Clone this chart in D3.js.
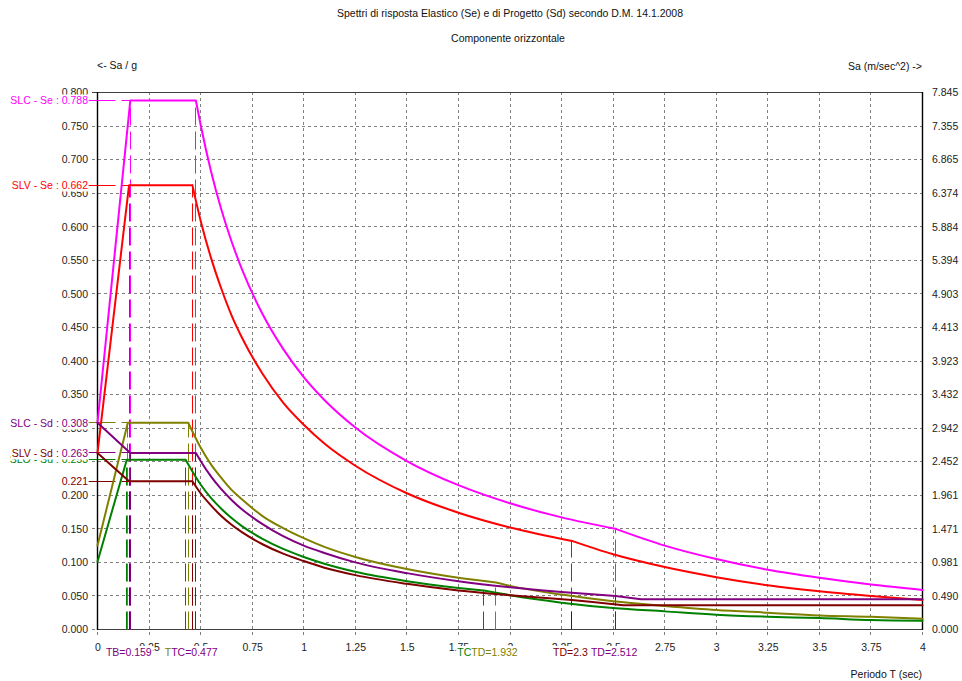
<!DOCTYPE html>
<html><head><meta charset="utf-8">
<script src="https://cdn.jsdelivr.net/npm/d3@7"></script>
<style>
body{margin:0;background:#fff;}
svg text{font-family:"Liberation Sans",Arial,sans-serif;font-size:10.5px;white-space:pre;}
</style>
</head><body>
<svg id="chart" width="962" height="681"></svg>
<script>
// ---------------- data ----------------
const titleText = "Spettri di risposta Elastico (Se) e di Progetto (Sd) secondo D.M. 14.1.2008";
const subtitleText = "Componente orizzontale";
const leftAxisTitle = "<- Sa / g";
const rightAxisTitle = "Sa (m/sec^2) ->";
const xAxisTitle = "Periodo T (sec)";

const yTicks = [0,0.05,0.1,0.15,0.2,0.25,0.3,0.35,0.4,0.45,0.5,0.55,0.6,0.65,0.7,0.75,0.8];
const yTickLabels = ["0.000","0.050","0.100","0.150","0.200","0.250","0.300","0.350","0.400","0.450","0.500","0.550","0.600","0.650","0.700","0.750","0.800"];
const yTickLabelsMs2 = ["0.000","0.490","0.981","1.471","1.961","2.452","2.942","3.432","3.923","4.413","4.903","5.394","5.884","6.374","6.865","7.355","7.845"];
const xTicks = [0,0.25,0.5,0.75,1,1.25,1.5,1.75,2,2.25,2.5,2.75,3,3.25,3.5,3.75,4];
const xTickLabels = ["0","0.25","0.5","0.75","1","1.25","1.5","1.75","2","2.25","2.5","2.75","3","3.25","3.5","3.75","4"];

// series (T [s], Sa [g])
const sloSd = [[0,0.101],[0.142,0.253],[0.427,0.253],[0.5,0.216],[0.55,0.196],[0.6,0.180],[0.65,0.166],[0.7,0.154],[0.8,0.135],[0.9,0.120],[1.0,0.108],[1.1,0.098],[1.25,0.086],[1.5,0.072],[1.75,0.062],[1.873,0.058],[2.0,0.051],[2.25,0.040],[2.5,0.032],[2.75,0.027],[3.0,0.022],[3.25,0.019],[3.5,0.017],[3.75,0.014],[4.0,0.013]];
const sldSd = [[0,0.125],[0.147,0.308],[0.44,0.308],[0.5,0.271],[0.55,0.246],[0.6,0.226],[0.65,0.208],[0.7,0.194],[0.8,0.169],[0.9,0.151],[1.0,0.136],[1.1,0.123],[1.25,0.108],[1.5,0.090],[1.75,0.077],[1.932,0.070],[2.0,0.065],[2.25,0.052],[2.5,0.042],[2.75,0.035],[3.0,0.029],[3.25,0.025],[3.5,0.021],[3.75,0.019],[4.0,0.016]];
const slvSe = [[0,0.263],[0.153,0.662],[0.46,0.662],[0.5,0.609],[0.55,0.554],[0.6,0.508],[0.65,0.468],[0.7,0.435],[0.8,0.381],[0.9,0.338],[1.0,0.305],[1.1,0.277],[1.25,0.244],[1.5,0.203],[1.75,0.174],[2.0,0.152],[2.3,0.132],[2.5,0.112],[2.75,0.093],[3.0,0.078],[3.25,0.066],[3.5,0.057],[3.75,0.050],[4.0,0.044]];
const slcSe = [[0,0.308],[0.159,0.788],[0.477,0.788],[0.5,0.752],[0.55,0.683],[0.6,0.626],[0.65,0.578],[0.7,0.537],[0.8,0.470],[0.9,0.418],[1.0,0.376],[1.1,0.342],[1.25,0.301],[1.5,0.251],[1.75,0.215],[2.0,0.188],[2.25,0.167],[2.512,0.150],[2.75,0.125],[3.0,0.105],[3.25,0.089],[3.5,0.077],[3.75,0.067],[4.0,0.059]];
const slvSd = [[0,0.263],[0.153,0.221],[0.46,0.221],[0.5,0.203],[0.55,0.185],[0.6,0.169],[0.65,0.156],[0.7,0.145],[0.8,0.127],[0.9,0.113],[1.0,0.102],[1.1,0.092],[1.25,0.081],[1.5,0.068],[1.75,0.058],[2.0,0.051],[2.3,0.044],[2.4,0.041],[2.549,0.036],[4.0,0.036]];
const slcSd = [[0,0.308],[0.159,0.263],[0.477,0.263],[0.5,0.251],[0.55,0.228],[0.6,0.209],[0.65,0.193],[0.7,0.179],[0.8,0.157],[0.9,0.139],[1.0,0.125],[1.1,0.114],[1.25,0.100],[1.5,0.084],[1.75,0.072],[2.0,0.063],[2.25,0.056],[2.512,0.050],[2.635,0.045],[4.0,0.045]];

const seriesNames = ["SLO - Sd","SLD - Sd","SLV - Se","SLC - Se","SLV - Sd","SLC - Sd"];
const seriesData  = [sloSd, sldSd, slvSe, slcSe, slvSd, slcSd];
const periodTB    = [0.142, 0.147, 0.153, 0.159, 0.153, 0.159];
const periodTC    = [0.427, 0.44, 0.46, 0.477, 0.46, 0.477];
const periodTD    = [1.873, 1.932, 2.3, 2.512, 2.3, 2.512];
const plateauSa   = [0.253, 0.308, 0.662, 0.788, 0.221, 0.263];
const floorStartT = [null, null, null, null, 2.549, 2.635];

// left value labels (main text + visible overlapping suffix), drawing order
const leftLabelTexts   = ["SLO - Sd : 0.253","SLV - Sd : ","SLC - Sd : 0.308","0.221","SLV - Se : 0.662","SLC - Se : 0.788"];
const leftLabelSuffix  = ["","0.263","","","",""];
const leftLabelValues  = [0.253, 0.263, 0.308, 0.221, 0.662, 0.788];
const leftLabelSeries  = [0, 4, 5, 4, 2, 3];
const leftSuffixSeries = [null, 5, null, null, null, null];

// bottom period labels (visible prefix fragment of a covered label + label)
const bottomLabelTexts   = ["TB=0.159","TC=0.477","TD=1.932","TD=2.3","TD=2.512"];
const bottomLabelPeriods = [0.159, 0.477, 1.932, 2.3, 2.512];
const bottomLabelSeries  = [5, 5, 1, 4, 5];
const bottomPrefixTexts  = ["","T","TC","",""];
const bottomPrefixSeries = [null, 1, 0, null, null];

// ---------------- styles ----------------
const seriesColors = ["#008000","#808000","#ff0000","#ff00ff","#800000","#800080"];
const drawOrder = [3,2,1,0,5,4];

// ---------------- drawing ----------------
const svg = d3.select("#chart");
svg.append("rect").attr("width",962).attr("height",681).attr("fill","#fff");

const x = d3.scaleLinear().domain([0,4]).range([97.5,922.5]);
const y = d3.scaleLinear().domain([0,0.8]).range([629.5,92.5]);
const crisp = v => Math.round(v - 0.5) + 0.5;

// grid
const grid = svg.append("g").attr("stroke","#808080").attr("stroke-width",1).attr("stroke-dasharray","3,3").attr("fill","none");
grid.selectAll("line.h").data(yTicks).join("line")
  .attr("x1",92).attr("x2",926)
  .attr("y1",d=>crisp(y(d))).attr("y2",d=>crisp(y(d)));
grid.selectAll("line.v").data(xTicks).join("line")
  .attr("y1",92).attr("y2",636)
  .attr("x1",d=>crisp(x(d))).attr("x2",d=>crisp(x(d)));

// axes frame
svg.append("line").attr("x1",92).attr("x2",922.5).attr("y1",crisp(y(0.8))).attr("y2",crisp(y(0.8))).attr("stroke","#404040");
svg.append("line").attr("x1",97).attr("x2",922.5).attr("y1",crisp(y(0))).attr("y2",crisp(y(0))).attr("stroke","#404040");
svg.append("line").attr("x1",crisp(x(0))).attr("x2",crisp(x(0))).attr("y1",92).attr("y2",630).attr("stroke","#000").attr("stroke-width",1.4);
svg.append("line").attr("x1",crisp(x(4))).attr("x2",crisp(x(4))).attr("y1",92).attr("y2",630).attr("stroke","#000").attr("stroke-width",1.4);

// tick labels
const tl = svg.append("g").attr("fill","#222");
tl.selectAll("text.yl").data(yTicks).join("text")
  .attr("x",88).attr("y",d=>y(d)+3.8).attr("text-anchor","end")
  .text((d,i)=>yTickLabels[i]);
tl.selectAll("text.yr").data(yTicks).join("text")
  .attr("x",932).attr("y",d=>y(d)+3.8).attr("text-anchor","start")
  .text((d,i)=>yTickLabelsMs2[i]);
tl.selectAll("text.x").data(xTicks).join("text")
  .attr("x",d=>x(d)+0.5).attr("y",651).attr("text-anchor","middle")
  .text((d,i)=>xTickLabels[i]);

// reference dashed lines
const ref = svg.append("g").attr("fill","none").attr("stroke-width",1);
function valueAt(data, T){ const p = data.find(d=>Math.abs(d[0]-T)<1e-9); return p ? p[1] : 0; }
drawOrder.forEach(i=>{
  const c = seriesColors[i], data = seriesData[i];
  const yp = crisp(y(plateauSa[i]));
  ref.append("line").attr("x1",88).attr("x2",97).attr("y1",yp).attr("y2",yp).attr("stroke",c);
  ref.append("line").attr("x1",97.5).attr("x2",x(periodTB[i])).attr("y1",yp).attr("y2",yp)
    .attr("stroke",c).attr("stroke-dasharray","18,6");
  [periodTB[i], periodTC[i], periodTD[i]].forEach(T=>{
    const xv = crisp(x(T));
    ref.append("line").attr("x1",xv).attr("x2",xv).attr("y1",y(0)).attr("y2",y(valueAt(data,T)))
      .attr("stroke",c).attr("stroke-dasharray","18,6");
  });
});

// curves
const line = d3.line().x(d=>x(d[0])).y(d=>y(d[1])).curve(d3.curveMonotoneX);
function splitAt(data, breaks){
  const segs=[]; let cur=[data[0]];
  for(let k=1;k<data.length;k++){
    cur.push(data[k]);
    if(breaks.some(b=>b!==null && Math.abs(b-data[k][0])<1e-9)){ segs.push(cur); cur=[data[k]]; }
  }
  if(cur.length>1) segs.push(cur);
  return segs;
}
const curves = svg.append("g").attr("fill","none");
drawOrder.forEach(i=>{
  const segs = splitAt(seriesData[i],[periodTB[i],periodTC[i],periodTD[i],floorStartT[i]]);
  curves.append("path").attr("d",segs.map(s=>line(s)).join(""))
    .attr("stroke",seriesColors[i]).attr("stroke-width",2)
    .attr("stroke-linejoin","round").attr("stroke-linecap","round");
});

// left labels with white boxes
const ll = svg.append("g");
leftLabelTexts.forEach((t,k)=>{
  const yc = y(leftLabelValues[k]);
  const g = ll.append("g");
  const r = g.append("rect").attr("fill","#fff");
  const txt = g.append("text").attr("x",88).attr("y",yc+3.8).attr("text-anchor","end");
  txt.append("tspan").attr("fill",seriesColors[leftLabelSeries[k]]).text(t);
  if(leftLabelSuffix[k]) txt.append("tspan").attr("fill",seriesColors[leftSuffixSeries[k]]).text(leftLabelSuffix[k]);
  const bb = txt.node().getBBox();
  r.attr("x",bb.x-1).attr("width",bb.width+1.5).attr("y",Math.round(yc)-6.5).attr("height",13);
});

// bottom labels with white boxes
const bl = svg.append("g");
bottomLabelTexts.forEach((t,k)=>{
  const xc = x(bottomLabelPeriods[k]) - 1.5;
  const g = bl.append("g");
  const r = g.append("rect").attr("fill","#fff");
  const txt = g.append("text").attr("y",656).attr("text-anchor","start");
  let pre = null;
  if(bottomPrefixTexts[k]) pre = txt.append("tspan").attr("fill",seriesColors[bottomPrefixSeries[k]]).text(bottomPrefixTexts[k]);
  const main = txt.append("tspan").attr("fill",seriesColors[bottomLabelSeries[k]]).text(t);
  const preW = pre ? pre.node().getComputedTextLength() : 0;
  const mainW = main.node().getComputedTextLength();
  txt.attr("x", xc - mainW/2 - preW);
  const bb = txt.node().getBBox();
  r.attr("x",bb.x-1).attr("width",bb.width+2).attr("y",646).attr("height",13);
});

// titles
const tt = svg.append("g").attr("fill","#111");
tt.append("text").attr("x",510).attr("y",17).attr("text-anchor","middle").text(titleText);
tt.append("text").attr("x",508).attr("y",42).attr("text-anchor","middle").text(subtitleText);
tt.append("text").attr("x",97).attr("y",69).attr("text-anchor","start").text(leftAxisTitle);
tt.append("text").attr("x",922).attr("y",70).attr("text-anchor","end").text(rightAxisTitle);
tt.append("text").attr("x",922).attr("y",678).attr("text-anchor","end").text(xAxisTitle);
</script>
</body></html>
